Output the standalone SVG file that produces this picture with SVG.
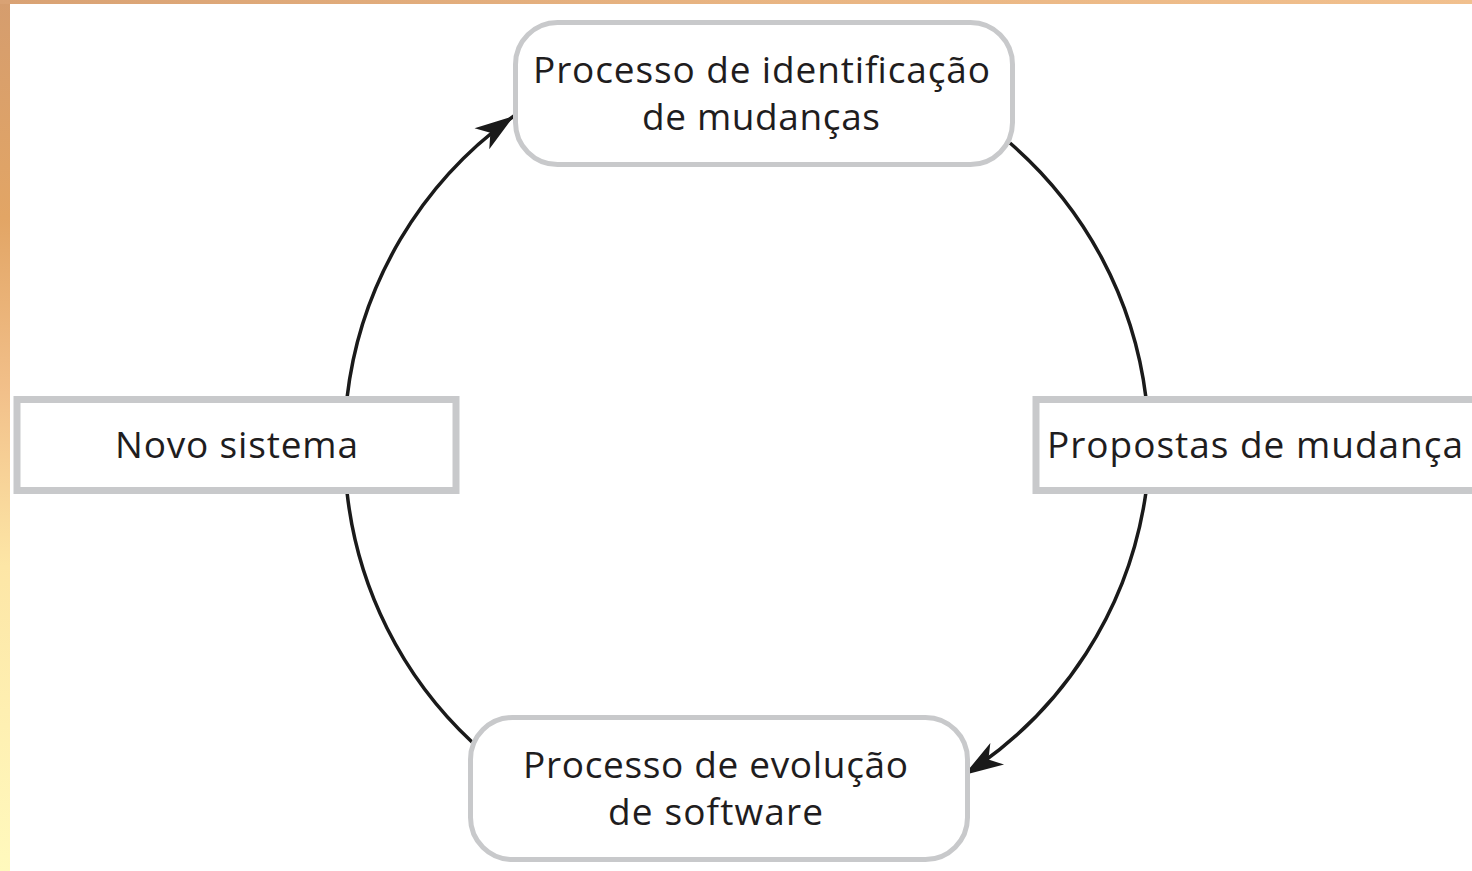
<svg xmlns="http://www.w3.org/2000/svg" width="1472" height="871" viewBox="0 0 1472 871">
  <style>
    .box { fill: #ffffff; stroke: #c8c9cb; }
    .lbl { font-family: "Open Sans", "Noto Sans", "DejaVu Sans", sans-serif; font-size: 37px; fill: #1f1d1e; text-anchor: middle; }
    .conn { fill: none; stroke: #1a1a1a; stroke-width: 3.5; }
  </style>
  <defs>
    <linearGradient id="sideGrad" x1="0" y1="0" x2="0" y2="1">
      <stop offset="0" stop-color="#d59d6e"/>
      <stop offset="0.25" stop-color="#e2a565"/>
      <stop offset="0.45" stop-color="#f2c08a"/>
      <stop offset="0.65" stop-color="#fde6a6"/>
      <stop offset="1" stop-color="#fff9bd"/>
    </linearGradient>
    <linearGradient id="topGrad" x1="0" y1="0" x2="1" y2="0">
      <stop offset="0" stop-color="#d9a274"/>
      <stop offset="0.5" stop-color="#e8b482"/>
      <stop offset="1" stop-color="#f1c08e"/>
    </linearGradient>
    <marker id="arrow" markerUnits="userSpaceOnUse" markerWidth="44" markerHeight="34" viewBox="-36 -14 38 28" refX="0" refY="0" orient="auto">
      <path d="M0,0 L-34,-11 L-25,0 L-34,11 Z" fill="#1a1a1a"/>
    </marker>
  </defs>

  <rect x="0" y="0" width="1472" height="871" fill="#ffffff"/>
  <rect x="0" y="0" width="10" height="871" fill="url(#sideGrad)"/>
  <rect x="0" y="0" width="1472" height="4" fill="url(#topGrad)"/>

  <g id="connectors">
    <path class="conn" d="M472,742 A402,402 0 0 1 347,492"/>
    <path class="conn" d="M347,398 A402,402 0 0 1 514,116" marker-end="url(#arrow)"/>
    <path class="conn" d="M1010,143 A402,402 0 0 1 1146,398"/>
    <path class="conn" d="M1146,492 A402,402 0 0 1 964,775" marker-end="url(#arrow)"/>
  </g>

  <g id="node-identificacao">
    <rect class="box" x="515.5" y="22.5" width="497" height="142" rx="42" ry="42" stroke-width="5"/>
    <text class="lbl" x="761.5" y="83" textLength="457" lengthAdjust="spacing">Processo de identificação</text>
    <text class="lbl" x="761" y="130" textLength="238" lengthAdjust="spacing">de mudanças</text>
  </g>

  <g id="node-novo-sistema">
    <rect class="box" x="17" y="399.5" width="439" height="91" stroke-width="7"/>
    <text class="lbl" x="236.5" y="458" textLength="243" lengthAdjust="spacing">Novo sistema</text>
  </g>

  <g id="node-propostas">
    <rect class="box" x="1036" y="399.5" width="450" height="91" stroke-width="7"/>
    <text class="lbl" x="1255" y="458" textLength="416" lengthAdjust="spacing">Propostas de mudança</text>
  </g>

  <g id="node-evolucao">
    <rect class="box" x="470.5" y="717.5" width="497" height="142" rx="42" ry="42" stroke-width="5"/>
    <text class="lbl" x="715.5" y="778" textLength="385" lengthAdjust="spacing">Processo de evolução</text>
    <text class="lbl" x="715.5" y="825" textLength="215" lengthAdjust="spacing">de software</text>
  </g>
</svg>
